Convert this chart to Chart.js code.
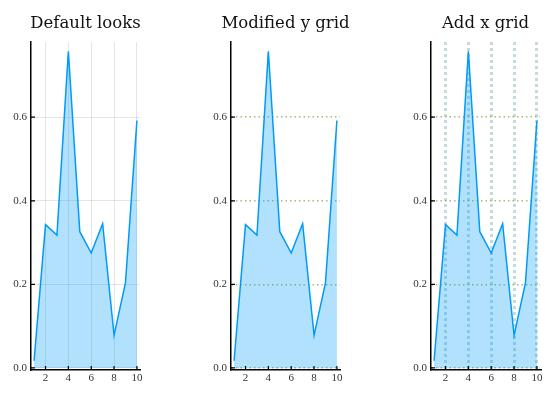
<!DOCTYPE html>
<html>
<head>
<meta charset="utf-8">
<script src="https://cdn.jsdelivr.net/npm/chart.js@4"></script>
<style>
  html, body { margin: 0; background: #fff; overflow: hidden; width: 555px; height: 395px; }
  .panel { position: absolute; top: 0; width: 155px; height: 395px; }
</style>
</head>
<body>
<div class="panel" style="left:0px"><canvas id="g1"></canvas></div>
<div class="panel" style="left:200px"><canvas id="g2"></canvas></div>
<div class="panel" style="left:400px"><canvas id="g3"></canvas></div>
<script>
const xValores = [1, 2, 3, 4, 5, 6, 7, 8, 9, 10];
const yValores = [0.017, 0.343, 0.318, 0.758, 0.326, 0.275, 0.345, 0.078, 0.204, 0.592];
const xTicks = [2, 4, 6, 8, 10];
const yTicks = [0, 0.2, 0.4, 0.6];
const titulos = ['Default looks', 'Modified y grid', 'Add x grid'];

const fuenteTitulo = "'DejaVu Serif', serif";
const fuente = "'Liberation Serif', 'DejaVu Serif', serif";

// marcas de eje hacia adentro
const marcasInternas = {
  id: 'marcasInternas',
  afterDraw(chart) {
    const { ctx, chartArea, scales } = chart;
    ctx.save();
    ctx.strokeStyle = '#000';
    ctx.lineWidth = 1.2;
    ctx.beginPath();
    xTicks.forEach(v => {
      const x = scales.x.getPixelForValue(v);
      ctx.moveTo(x, chartArea.bottom);
      ctx.lineTo(x, chartArea.bottom - 4);
    });
    yTicks.forEach(v => {
      const y = scales.y.getPixelForValue(v);
      ctx.moveTo(chartArea.left, y);
      ctx.lineTo(chartArea.left + 4, y);
    });
    ctx.stroke();
    ctx.restore();
  }
};

// título centrado sobre el área del gráfico
const tituloCentrado = {
  id: 'tituloCentrado',
  afterDraw(chart, args, opts) {
    const { ctx, chartArea } = chart;
    ctx.save();
    ctx.fillStyle = '#111';
    ctx.font = `16.5px ${fuenteTitulo}`;
    ctx.textAlign = 'center';
    ctx.textBaseline = 'alphabetic';
    ctx.fillText(opts.texto, (chartArea.left + chartArea.right) / 2, 28);
    ctx.restore();
  }
};

const crearGrafico = (id, titulo, gridX, gridY) => {
  const ctx = document.getElementById(id).getContext('2d');
  return new Chart(ctx, {
    type: 'line',
    data: {
      datasets: [{
        data: xValores.map((x, i) => ({ x, y: yValores[i] })),
        borderColor: '#009afa',
        backgroundColor: 'rgba(0,154,250,0.3)',
        borderWidth: 1.5,
        pointRadius: 0,
        fill: 'origin',
        tension: 0
      }]
    },
    options: {
      responsive: false,
      animation: false,
      layout: { padding: { left: 0, right: 15, top: 42, bottom: 0 } },
      plugins: {
        legend: { display: false },
        tooltip: { enabled: false },
        title: { display: false },
        tituloCentrado: { texto: titulo }
      },
      scales: {
        x: {
          type: 'linear',
          min: 0.73,
          max: 10.27,
          afterBuildTicks: s => { s.ticks = xTicks.map(v => ({ value: v })); },
          afterFit: s => { s.height = 25; },
          ticks: {
            color: '#333',
            font: { family: fuente, size: 11 },
            padding: 2,
            maxRotation: 0
          },
          grid: Object.assign({ drawTicks: false }, gridX),
          border: Object.assign({ display: true, color: '#000', width: 1.5 }, gridX.border || {})
        },
        y: {
          type: 'linear',
          min: -0.005,
          max: 0.78,
          afterBuildTicks: s => { s.ticks = yTicks.map(v => ({ value: v })); },
          afterFit: s => { s.width = 31; },
          ticks: {
            color: '#333',
            font: { family: fuente, size: 11 },
            padding: 4,
            callback: v => v.toFixed(1)
          },
          grid: Object.assign({ drawTicks: false }, gridY),
          border: Object.assign({ display: true, color: '#000', width: 1.5 }, gridY.border || {})
        }
      }
    },
    plugins: [marcasInternas, tituloCentrado]
  });
};

['g1', 'g2', 'g3'].forEach(id => {
  const c = document.getElementById(id);
  c.width = 155;
  c.height = 395;
});

const gridSuave = { color: 'rgba(0,0,0,0.1)', lineWidth: 1 };
const gridVerde = { color: 'rgba(128,162,60,0.7)', lineWidth: 1.5, border: { dash: [1.5, 3] } };
const gridTeal = { color: 'rgba(120,175,180,0.45)', lineWidth: 3, border: { dash: [3, 3] } };

crearGrafico('g1', titulos[0], gridSuave, gridSuave);
crearGrafico('g2', titulos[1], { display: false }, gridVerde);
crearGrafico('g3', titulos[2], gridTeal, gridVerde);
</script>
</body>
</html>
